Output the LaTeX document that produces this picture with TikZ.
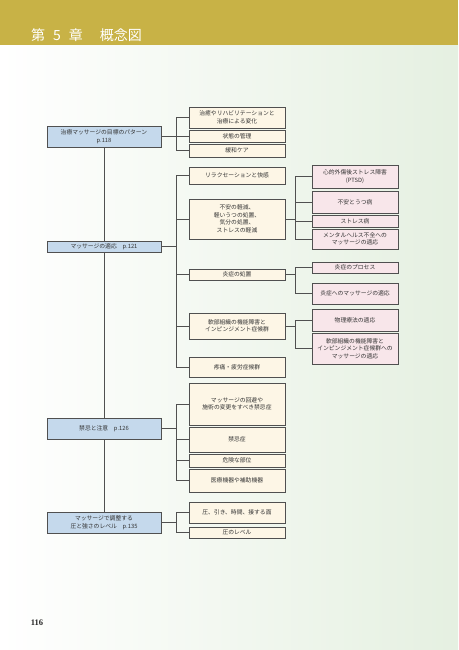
\documentclass[tikz,border=0pt]{standalone}
\usepackage{fontspec}
\setmainfont{Noto Sans CJK JP}
\newfontfamily\pagenumfont{Liberation Serif}
\usepackage{xcolor}
\definecolor{bandgold}{RGB}{200,178,70}
\definecolor{pagegreen}{RGB}{229,240,225}
\definecolor{boxline}{RGB}{80,80,80}
\definecolor{topicblue}{RGB}{197,217,236}
\definecolor{itemcream}{RGB}{253,246,230}
\definecolor{detailpink}{RGB}{248,230,234}
\definecolor{boxtext}{RGB}{50,50,50}
\usepackage{tikz}
\usetikzlibrary{positioning, calc}

\tikzset{
    box/.style={draw=boxline, line width=0.8pt, text=boxtext, align=center, inner sep=0pt,
        font=\fontsize{5.8}{7.5}\selectfont},
    topic/.style={box, fill=topicblue, minimum width=114pt},
    item/.style={box, fill=itemcream, minimum width=96pt},
    detail/.style={box, fill=detailpink, minimum width=86pt},
    link/.style={draw=boxline, line width=0.7pt},
}

\begin{document}
\begin{tikzpicture}[x=1pt, y=-1pt]
    \useasboundingbox (0,0) rectangle (458,650);
    \fill[white] (0,0) rectangle (458,650);
    \shade[left color=white, right color=pagegreen] (0,45) rectangle (458,650);
    \fill[bandgold] (0,0) rectangle (458,45);
    \node[anchor=west, inner sep=0pt, text=white, font=\fontsize{14}{14}\selectfont] (title) at (31,35)
        {第\hspace{8pt}5\hspace{8pt}章\hspace{17pt}概念図};
    \node[inner sep=0pt, text=black!85, font=\pagenumfont\bfseries\fontsize{8.5}{8.5}\selectfont] (pagenum) at (37,623) {116};

    \coordinate (midspine) at (176,0);
    \coordinate (rightspine) at (295,0);

    \node[topic, minimum height=21pt] (goals) at (104,136.5) {治療マッサージの目標のパターン\\p.118};
    \node[topic, minimum height=11pt] (indic) at (104,246.5) {マッサージの適応\quad p.121};
    \node[topic, minimum height=21pt] (contra) at (104,428.5) {禁忌と注意\quad p.126};
    \node[topic, minimum height=21pt] (pressure) at (104,522.5) {マッサージで調整する\\圧と強さのレベル\quad p.135};

    \node[item, minimum height=21pt] (heal) at (237,117.5) {治癒やリハビリテーションと\\治療による変化};
    \node[item, minimum height=12pt] (manage) at (237,136) {状態の管理};
    \node[item, minimum height=13pt] (palli) at (237,150.5) {緩和ケア};
    \node[item, minimum height=17pt] (relax) at (237,175.5) {リラクセーションと快感};
    \node[item, minimum height=40pt] (anxiety) at (237,219) {不安の軽減、\\軽いうつの処置、\\気分の処置、\\ストレスの軽減};
    \node[item, minimum height=11pt] (inflam) at (237,274.5) {炎症の処置};
    \node[item, minimum height=26pt] (softtis) at (237,326) {軟部組織の機能障害と\\インピンジメント症候群};
    \node[item, minimum height=20pt] (painsyn) at (237,367) {疼痛・疲労症候群};
    \node[item, minimum height=42pt] (avoid) at (237,404) {マッサージの回避や\\施術の変更をすべき禁忌症};
    \node[item, minimum height=25pt] (contrasyn) at (237,439.5) {禁忌症};
    \node[item, minimum height=13pt] (danger) at (237,460.5) {危険な部位};
    \node[item, minimum height=23pt] (device) at (237,480.5) {医療機器や補助機器};
    \node[item, minimum height=21pt] (pressvar) at (237,512.5) {圧、引き、時間、接する面};
    \node[item, minimum height=11pt] (presslvl) at (237,532.5) {圧のレベル};

    \node[detail, minimum height=23pt] (ptsd) at (355,176.5) {心的外傷後ストレス障害\\(PTSD)};
    \node[detail, minimum height=22pt] (depress) at (355,202) {不安とうつ病};
    \node[detail, minimum height=12pt] (stress) at (355,221) {ストレス病};
    \node[detail, minimum height=20pt] (mental) at (355,239) {メンタルヘルス不全への\\マッサージの適応};
    \node[detail, minimum height=11pt] (inflproc) at (355,267.5) {炎症のプロセス};
    \node[detail, minimum height=21pt] (inflmass) at (355,293.5) {炎症へのマッサージの適応};
    \node[detail, minimum height=22pt] (physio) at (355,320) {物理療法の適応};
    \node[detail, minimum height=31pt] (softmass) at (355,348.5) {軟部組織の機能障害と\\インピンジメント症候群への\\マッサージの適応};

    \draw[link] (goals.south) -- (indic.north);
    \draw[link] (indic.south) -- (contra.north);
    \draw[link] (contra.south) -- (pressure.north);

    \draw[link] (goals.east) -- (midspine |- goals.east);
    \draw[link] (midspine |- heal.west) -- (midspine |- palli.west);
    \foreach \n in {heal, manage, palli}
        \draw[link] (midspine |- \n.west) -- (\n.west);

    \draw[link] (indic.east) -- (midspine |- indic.east);
    \draw[link] (midspine |- relax.west) -- (midspine |- painsyn.west);
    \foreach \n in {relax, anxiety, inflam, softtis, painsyn}
        \draw[link] (midspine |- \n.west) -- (\n.west);

    \draw[link] (contra.east) -- (midspine |- contra.east);
    \draw[link] (midspine |- avoid.west) -- (midspine |- device.west);
    \foreach \n in {avoid, contrasyn, danger, device}
        \draw[link] (midspine |- \n.west) -- (\n.west);

    \draw[link] (pressure.east) -- (midspine |- pressure.east);
    \draw[link] (midspine |- pressvar.west) -- (midspine |- presslvl.west);
    \foreach \n in {pressvar, presslvl}
        \draw[link] (midspine |- \n.west) -- (\n.west);

    \draw[link] (anxiety.east) -- (rightspine |- anxiety.east);
    \draw[link] (rightspine |- ptsd.west) -- (rightspine |- mental.west);
    \foreach \n in {ptsd, depress, stress, mental}
        \draw[link] (rightspine |- \n.west) -- (\n.west);

    \draw[link] (inflam.east) -- (rightspine |- inflam.east);
    \draw[link] (rightspine |- inflproc.west) -- (rightspine |- inflmass.west);
    \foreach \n in {inflproc, inflmass}
        \draw[link] (rightspine |- \n.west) -- (\n.west);

    \draw[link] (softtis.east) -- (rightspine |- softtis.east);
    \draw[link] (rightspine |- physio.west) -- (rightspine |- softmass.west);
    \foreach \n in {physio, softmass}
        \draw[link] (rightspine |- \n.west) -- (\n.west);
\end{tikzpicture}
\end{document}
